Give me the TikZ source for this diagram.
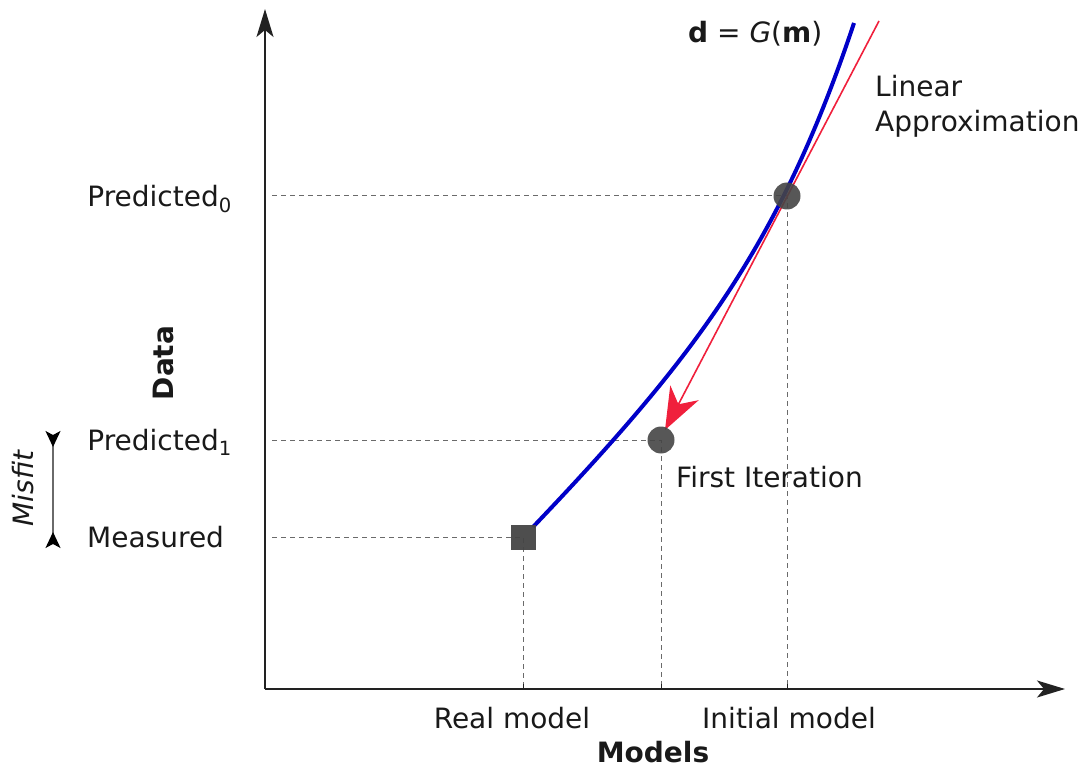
\documentclass[tikz,border=0pt]{standalone}
\usepackage{fontspec}
\setmainfont{DejaVu Sans}
\usepackage{xcolor}
\usepackage{tikz}
\usetikzlibrary{arrows.meta,positioning}
\definecolor{axisc}{HTML}{222222}
\definecolor{guidec}{HTML}{6A6A6A}
\definecolor{fwdc}{HTML}{0000C8}
\definecolor{linc}{HTML}{F0203C}
\definecolor{markc}{HTML}{454545}

\begin{document}
\begin{tikzpicture}[x=1pt,y=-1pt,
  lbl/.style={font=\fontsize{28}{34}\selectfont,inner sep=0pt,text=black!90},
  lblb/.style={lbl,font=\fontsize{28}{34}\selectfont\bfseries},
  axline/.style={-{Stealth[length=28pt,width=17pt,inset=7pt]},draw=axisc,line width=1.8pt},
  tick/.style={draw=axisc,line width=1pt},
  guide/.style={draw=guidec,line width=1pt,dash pattern=on 5pt off 4pt},
  fwd/.style={draw=fwdc,line width=4pt},
  lin/.style={draw=linc,line width=1.6pt,-{Stealth[length=42pt,width=32pt,inset=13pt]}},
  misfit/.style={draw=guidec,line width=1.5pt,
    {Stealth[reversed,length=16pt,width=15pt,inset=4pt,black]}-{Stealth[reversed,length=16pt,width=15pt,inset=4pt,black]}},
  dot/.style={circle,fill=markc,fill opacity=0.9,minimum size=27pt,inner sep=0pt},
  sq/.style={rectangle,fill=markc,fill opacity=0.95,minimum size=25pt,inner sep=0pt}
]
\useasboundingbox (0,0) rectangle (1088,770);

\coordinate (o) at (265,689);
\coordinate (ytop) at (265,9);
\coordinate (xend) at (1065,689);
\coordinate (gy) at (272,689);
\coordinate (c0) at (787,196);
\coordinate (c1) at (661,440);
\coordinate (cm) at (523,537);
\coordinate (gbot) at (533,527);
\coordinate (gtop) at (854,23);
\coordinate (ltop) at (879,21);
\coordinate (ltip) at (665,430);
\coordinate (mtop) at (53,431);
\coordinate (mbot) at (53,548);

\draw[guide] (c0 -| gy) -- (c0) -- (c0 |- o);
\draw[guide] (c1 -| gy) -- (c1) -- (c1 |- o);
\draw[guide] (cm -| gy) -- (cm) -- (cm |- o);
\foreach \c in {c0,c1,cm}
  \draw[tick] (\c |- o) -- ++(0,-5);

\draw[axline] (o) -- (ytop);
\draw[axline] (o) -- (xend);

\draw[fwd] (gbot) .. controls (693,359) and (779,248) .. (gtop);
\draw[lin] (ltop) -- (ltip);

\node[dot] (init) at (c0) {};
\node[dot] (iter) at (c1) {};
\node[sq] (real) at (cm) {};

\node[lbl,anchor=base east] (lp0) at (232,207) {Predicted\textsubscript{0}};
\node[lbl,anchor=base east] (lp1) at (232,450) {Predicted\textsubscript{1}};
\node[lbl,anchor=base west] (lms) at (87,547) {Measured};
\node[lbl,rotate=90] (lmf) at (23,488) {\textit{Misfit}};
\draw[misfit] (mtop) -- (mbot);
\node[lblb,rotate=90] (ldata) at (163,363) {Data};

\node[lbl,anchor=base] (lreal) at (512,728) {Real model};
\node[lbl,anchor=base] (linit) at (789,728) {Initial model};
\node[lblb,anchor=base] (lmod) at (653,762) {Models};

\node[lbl,anchor=base west] (lfirst) at (676,487) {First Iteration};
\node[lbl,anchor=base west] (llin) at (875,97) {Linear};
\node[lbl,anchor=base west] (lapp) at (875,132) {Approximation};
\node[lbl,anchor=base west] (lgm) at (688,43) {\textbf{d} = \textit{G}(\textbf{m})};
\end{tikzpicture}
\end{document}
